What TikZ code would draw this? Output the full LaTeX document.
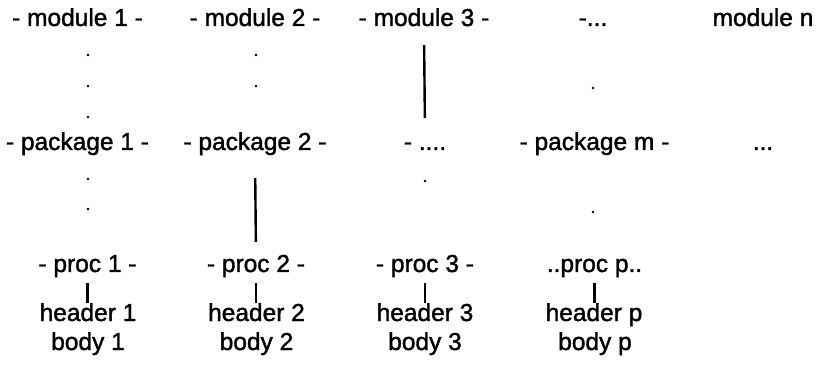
\documentclass[tikz,border=0pt]{standalone}
\usepackage{fontspec}
\setmainfont{Liberation Sans}[FakeBold=1.5]
\begin{document}
\begin{tikzpicture}[x=1pt,y=-1pt,
  lbl/.style={anchor=base,inner sep=0pt,text height=17pt,text depth=5pt,
    font=\fontsize{24.5}{28}\selectfont},
  conn/.style={line width=2.4pt},
  bar/.style={line width=2.6pt,shorten <=6pt,shorten >=1pt},
  dotmark/.style={fill=black}]
\useasboundingbox (0,0) rectangle (825,374);
% modules
\node[lbl] (m1) at (77.5,26) {- module 1 -};
\node[lbl] (m2) at (255,26) {- module 2 -};
\node[lbl] (m3) at (424,26) {- module 3 -};
\node[lbl] (m4) at (593,26) {-...};
\node[lbl] (m5) at (763,26) {module n};
% packages
\node[lbl] (k1) at (77.5,150) {- package 1 -};
\node[lbl] (k2) at (255,150) {- package 2 -};
\node[lbl] (k3) at (425,150) {- ....};
\node[lbl] (k4) at (594.5,150) {- package m -};
\node[lbl] (k5) at (763,150) {...};
% procs
\node[lbl] (r1) at (87.5,272) {- proc 1 -};
\node[lbl] (r2) at (256,272) {- proc 2 -};
\node[lbl] (r3) at (425,272) {- proc 3 -};
\node[lbl] (r4) at (594.5,272) {..proc p..};
% headers
\node[lbl] (h1) at (88,321) {header 1};
\node[lbl] (h2) at (256.5,321) {header 2};
\node[lbl] (h3) at (425,321) {header 3};
\node[lbl] (h4) at (594,321) {header p};
% bodies
\node[lbl] (b1) at (88,350) {body 1};
\node[lbl] (b2) at (256.5,350) {body 2};
\node[lbl] (b3) at (425,350) {body 3};
\node[lbl] (b4) at (595,350) {body p};
% solid connectors
\draw[conn,shorten <=14pt,shorten >=15pt] (m3.south) -- (k3.north);
\draw[conn,shorten <=23pt,shorten >=13pt] (k2.south) -- (r2.north);
\draw[bar] (r1.south) -- (r1.south |- h1.north);
\draw[bar] (r2.south) -- (r2.south |- h2.north);
\draw[bar] (r3.south) -- (r3.south |- h3.north);
\draw[bar] (r4.south) -- (r4.south |- h4.north);
% dotted connections
\foreach \x/\y in {88/55,88/86,88/117,88/179,88/209,256/55,256/86,425/181,593/88,593/212}
  \fill[dotmark] (\x,\y) circle (1.3pt);
\end{tikzpicture}
\end{document}
